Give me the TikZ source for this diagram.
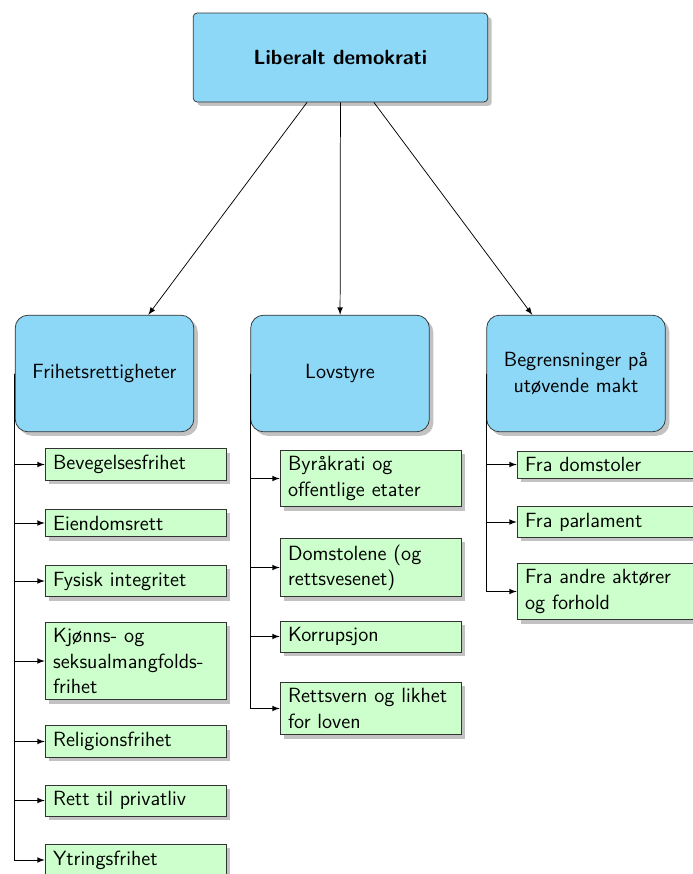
\documentclass[tikz,border=0pt]{standalone}
\usepackage{fontspec}
\usetikzlibrary{shadows}
\definecolor{catblue}{RGB}{141,215,247}
\definecolor{leafgreen}{RGB}{204,255,204}
\newcommand{\boxfont}{\sffamily\fontsize{11.1pt}{13.6pt}\selectfont}
\tikzset{
  topbox/.style={draw=black!80, fill=catblue, rounded corners=2pt, minimum width=159pt,
    minimum height=48pt, font=\boxfont\bfseries, drop shadow={fill=black!40, opacity=0.6}},
  catbox/.style={draw=black!80, fill=catblue, rounded corners=7pt, minimum width=96.5pt,
    minimum height=63pt, text width=88pt, align=center, font=\boxfont,
    drop shadow={fill=black!40, opacity=0.6}},
  leafbox/.style={draw=black!80, fill=leafgreen, minimum width=97.7pt, text width=89pt,
    inner xsep=4.3pt, inner ysep=3.4pt, align=left, font=\boxfont,
    drop shadow={fill=black!40, opacity=0.6}},
  link/.style={-latex, black}
}
\begin{document}
\begin{tikzpicture}[x=0.54pt, y=-0.54pt]
\useasboundingbox (0,0) rectangle (692,874);

\node[topbox] (demo) at (340.5,57.5) {Liberalt demokrati};

\node[catbox] (frihet) at (104.5,373.5) {Frihetsrettigheter};
\node[catbox] (lov) at (340,373.5) {Lovstyre};
\node[catbox] (makt) at (576,373.5) {Begrensninger på\\utøvende makt};

\draw[link] (demo) -- (frihet);
\draw[link] (demo) -- (lov);
\draw[link] (demo) -- (makt);

% Frihetsrettigheter
\node[leafbox] (bev) at (135.5,464.5) {Bevegelsesfrihet};
\node[leafbox] (eiend) at (135.5,523) {Eiendomsrett};
\node[leafbox] (fysisk) at (135.5,581) {Fysisk integritet};
\node[leafbox] (kjonn) at (135.5,661) {Kjønns- og\\seksualmangfolds-\\frihet};
\node[leafbox] (relig) at (135.5,741.5) {Religionsfrihet};
\node[leafbox] (privat) at (135.5,800.5) {Rett til privatliv};
\node[leafbox] (ytring) at (135.5,860) {Ytringsfrihet};

\foreach \leaf in {bev,eiend,fysisk,kjonn,relig,privat,ytring}
    \draw[link] (frihet.west) |- (\leaf.west);

% Lovstyre
\node[leafbox] (byrak) at (370.5,478.5) {Byråkrati og\\offentlige etater};
\node[leafbox] (domst) at (370.5,567.5) {Domstolene (og\\rettsvesenet)};
\node[leafbox] (korr) at (370.5,636.5) {Korrupsjon};
\node[leafbox] (rettsv) at (370.5,708.5) {Rettsvern og likhet\\for loven};

\foreach \leaf in {byrak,domst,korr,rettsv}
    \draw[link] (lov.west) |- (\leaf.west);

% Begrensninger
\node[leafbox] (fradom) at (607.5,464.5) {Fra domstoler};
\node[leafbox] (frapar) at (607.5,522) {Fra parlament};
\node[leafbox] (fraand) at (607.5,591.5) {Fra andre aktører\\og forhold};

\foreach \leaf in {fradom,frapar,fraand}
    \draw[link] (makt.west) |- (\leaf.west);
\end{tikzpicture}
\end{document}
